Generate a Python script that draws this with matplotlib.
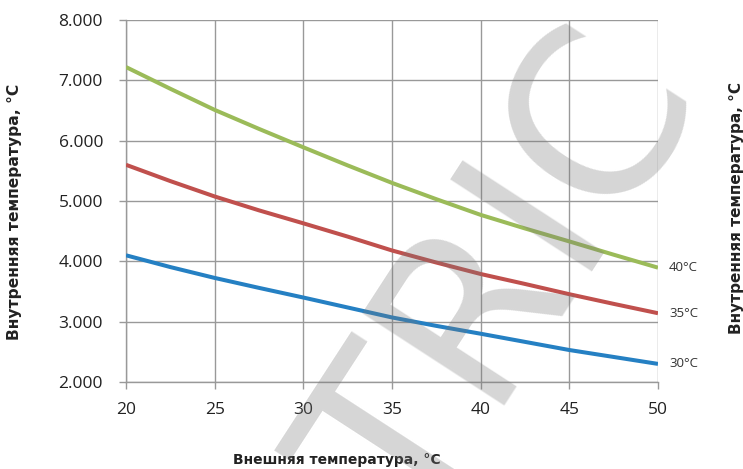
import numpy as np
import matplotlib.pyplot as plt
from matplotlib.ticker import FuncFormatter

# outdoor temperature, deg C
t_out = [20, 22.5, 25, 27.5, 30, 32.5, 35, 37.5, 40, 42.5, 45, 47.5, 50]
# values for each supply temperature
t40 = [7220, 6860, 6510, 6195, 5890, 5590, 5300, 5030, 4770, 4545, 4330, 4110, 3895]
t35 = [5600, 5330, 5075, 4845, 4630, 4410, 4180, 3980, 3790, 3625, 3455, 3295, 3140]
t30 = [4100, 3905, 3725, 3560, 3400, 3235, 3070, 2930, 2800, 2665, 2530, 2415, 2300]
series_labels = ['40°C', '35°C', '30°C']
colors = ['#9BBB59', '#C0504D', '#2580C3']

fig = plt.figure(figsize=(7.43, 4.69), dpi=100)
ax = fig.add_axes([126/743, 1 - 382/469, (658-126)/743, (382-20)/469])

for ys, lab, c in zip([t40, t35, t30], series_labels, colors):
    ax.plot(t_out, ys, color=c, lw=2.9, solid_capstyle='butt', solid_joinstyle='round', zorder=3)
    ax.annotate(lab, xy=(t_out[-1], ys[-1]), xytext=(8, 0), textcoords='offset points',
                ha='left', va='center', fontsize=9.5, family='Open Sans', color='#333333')

ax.set_xlim(20, 50)
ax.set_ylim(2000, 8000)
ax.set_xticks(range(20, 51, 5))
ax.set_yticks(range(2000, 8001, 1000))
ax.yaxis.set_major_formatter(FuncFormatter(lambda v, p: f'{int(v):,}'.replace(',', '.')))
ax.grid(True, color='#999999', lw=1.0)
ax.set_axisbelow(True)
for s in ['top', 'right']:
    ax.spines[s].set_visible(False)
for s in ['left', 'bottom']:
    ax.spines[s].set_color('#999999')
    ax.spines[s].set_linewidth(1.0)
ax.tick_params(direction='out', length=5, color='#999999', width=1.0,
               labelsize=12.5, labelcolor='#222222')
ax.tick_params(axis='x', pad=9.5)
ax.tick_params(axis='y', pad=11.5)
for lbl in ax.get_xticklabels() + ax.get_yticklabels():
    lbl.set_family('Open Sans')

fig.text(337/743, 1 - 460/469, 'Внешняя температура, °C', ha='center', va='center',
         fontsize=10, fontweight='bold', family='DejaVu Sans', color='#222222')
fig.text(15/743, 1 - 212/469, 'Внутренняя температура, °C', ha='center', va='center',
         rotation=90, fontsize=11.2, fontweight='bold', family='DejaVu Sans', color='#222222')
fig.text(737/743, 1 - 208/469, 'Внутренняя температура, °C', ha='center', va='center',
         rotation=90, fontsize=11, fontweight='bold', family='DejaVu Sans', color='#222222')

# watermark
fig.text(508/743, 1 - 285/469, 'TRIC', ha='center', va='center', rotation=57,
         rotation_mode='anchor', fontsize=166, color='#777777', alpha=0.3,
         family='DejaVu Sans', zorder=10)

fig.savefig('out.png', dpi=100)
